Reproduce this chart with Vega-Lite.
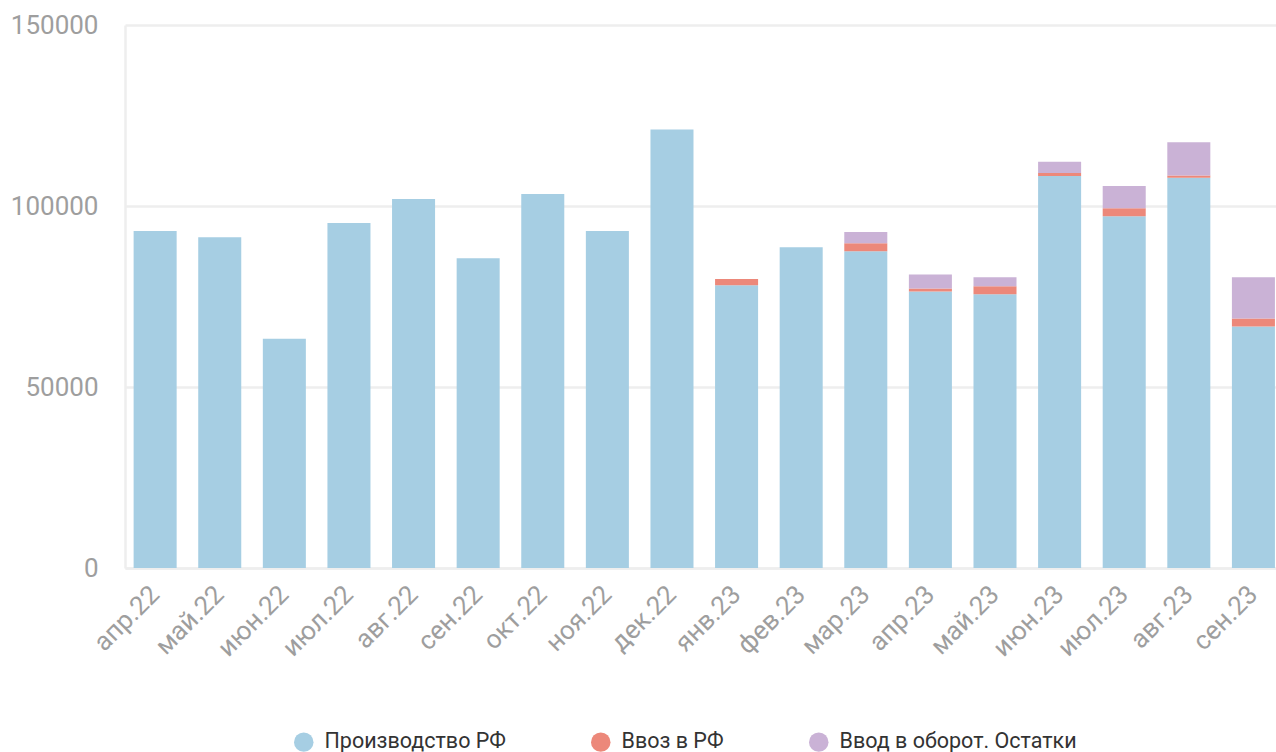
{
  "$schema": "https://vega.github.io/schema/vega-lite/v6.json",
  "width": 1151,
  "height": 543,
  "autosize": {"type": "none"},
  "padding": {"top": 25, "left": 125, "right": 0, "bottom": 184},
  "background": "white",
  "config": {
    "font": "Roboto",
    "view": {"stroke": null}
  },
  "data": {
    "values": [
      {"month": "апр.22", "series": "Производство РФ", "ord": 1, "value": 93100},
      {"month": "май.22", "series": "Производство РФ", "ord": 1, "value": 91400},
      {"month": "июн.22", "series": "Производство РФ", "ord": 1, "value": 63300},
      {"month": "июл.22", "series": "Производство РФ", "ord": 1, "value": 95300},
      {"month": "авг.22", "series": "Производство РФ", "ord": 1, "value": 101900},
      {"month": "сен.22", "series": "Производство РФ", "ord": 1, "value": 85600},
      {"month": "окт.22", "series": "Производство РФ", "ord": 1, "value": 103300},
      {"month": "ноя.22", "series": "Производство РФ", "ord": 1, "value": 93100},
      {"month": "дек.22", "series": "Производство РФ", "ord": 1, "value": 121100},
      {"month": "янв.23", "series": "Производство РФ", "ord": 1, "value": 78100},
      {"month": "янв.23", "series": "Ввоз в РФ", "ord": 2, "value": 1700},
      {"month": "фев.23", "series": "Производство РФ", "ord": 1, "value": 88600},
      {"month": "мар.23", "series": "Производство РФ", "ord": 1, "value": 87500},
      {"month": "мар.23", "series": "Ввоз в РФ", "ord": 2, "value": 2200},
      {"month": "мар.23", "series": "Ввод в оборот. Остатки", "ord": 3, "value": 3100},
      {"month": "апр.23", "series": "Производство РФ", "ord": 1, "value": 76400},
      {"month": "апр.23", "series": "Ввоз в РФ", "ord": 2, "value": 800},
      {"month": "апр.23", "series": "Ввод в оборот. Остатки", "ord": 3, "value": 3900},
      {"month": "май.23", "series": "Производство РФ", "ord": 1, "value": 75600},
      {"month": "май.23", "series": "Ввоз в РФ", "ord": 2, "value": 2200},
      {"month": "май.23", "series": "Ввод в оборот. Остатки", "ord": 3, "value": 2500},
      {"month": "июн.23", "series": "Производство РФ", "ord": 1, "value": 108300},
      {"month": "июн.23", "series": "Ввоз в РФ", "ord": 2, "value": 800},
      {"month": "июн.23", "series": "Ввод в оборот. Остатки", "ord": 3, "value": 3100},
      {"month": "июл.23", "series": "Производство РФ", "ord": 1, "value": 97200},
      {"month": "июл.23", "series": "Ввоз в РФ", "ord": 2, "value": 2200},
      {"month": "июл.23", "series": "Ввод в оборот. Остатки", "ord": 3, "value": 6100},
      {"month": "авг.23", "series": "Производство РФ", "ord": 1, "value": 107800},
      {"month": "авг.23", "series": "Ввоз в РФ", "ord": 2, "value": 600},
      {"month": "авг.23", "series": "Ввод в оборот. Остатки", "ord": 3, "value": 9200},
      {"month": "сен.23", "series": "Производство РФ", "ord": 1, "value": 66700},
      {"month": "сен.23", "series": "Ввоз в РФ", "ord": 2, "value": 2200},
      {"month": "сен.23", "series": "Ввод в оборот. Остатки", "ord": 3, "value": 11400}
    ]
  },
  "mark": {"type": "bar"},
  "encoding": {
    "x": {
      "field": "month",
      "type": "ordinal",
      "sort": ["апр.22","май.22","июн.22","июл.22","авг.22","сен.22","окт.22","ноя.22","дек.22","янв.23","фев.23","мар.23","апр.23","май.23","июн.23","июл.23","авг.23","сен.23"],
      "scale": {"paddingInner": 0.334, "paddingOuter": 0.075, "align": 0.89},
      "axis": {
        "title": null,
        "labelAngle": -45,
        "labelAlign": "right",
        "labelBaseline": "middle",
        "labelFontSize": 26,
        "labelColor": "#9e9e9e",
        "labelPadding": 22,
        "ticks": false,
        "domainColor": "#eeeeee",
        "domainWidth": 2.5,
        "grid": false
      }
    },
    "y": {
      "field": "value",
      "type": "quantitative",
      "aggregate": "sum",
      "stack": "zero",
      "scale": {"domain": [0, 150000], "nice": false},
      "axis": {
        "title": null,
        "values": [0, 50000, 100000, 150000],
        "format": "d",
        "labelFontSize": 26,
        "labelColor": "#9e9e9e",
        "labelPadding": 27,
        "ticks": false,
        "domainColor": "#eeeeee",
        "domainWidth": 2.5,
        "gridColor": "#eeeeee",
        "gridWidth": 2.5
      }
    },
    "color": {
      "field": "series",
      "type": "nominal",
      "scale": {
        "domain": ["Производство РФ", "Ввоз в РФ", "Ввод в оборот. Остатки"],
        "range": ["#a6cee3", "#ec887a", "#cab2d6"]
      },
      "legend": {
        "title": null,
        "orient": "none",
        "legendX": 168,
        "legendY": 706,
        "direction": "horizontal",
        "symbolType": "circle",
        "symbolSize": 380,
        "symbolStrokeWidth": 0,
        "labelFontSize": 21.5,
        "labelLimit": 0,
        "labelColor": "#333333",
        "labelOffset": 10,
        "columnPadding": 84
      }
    },
    "order": {"field": "ord", "type": "quantitative"}
  }
}
